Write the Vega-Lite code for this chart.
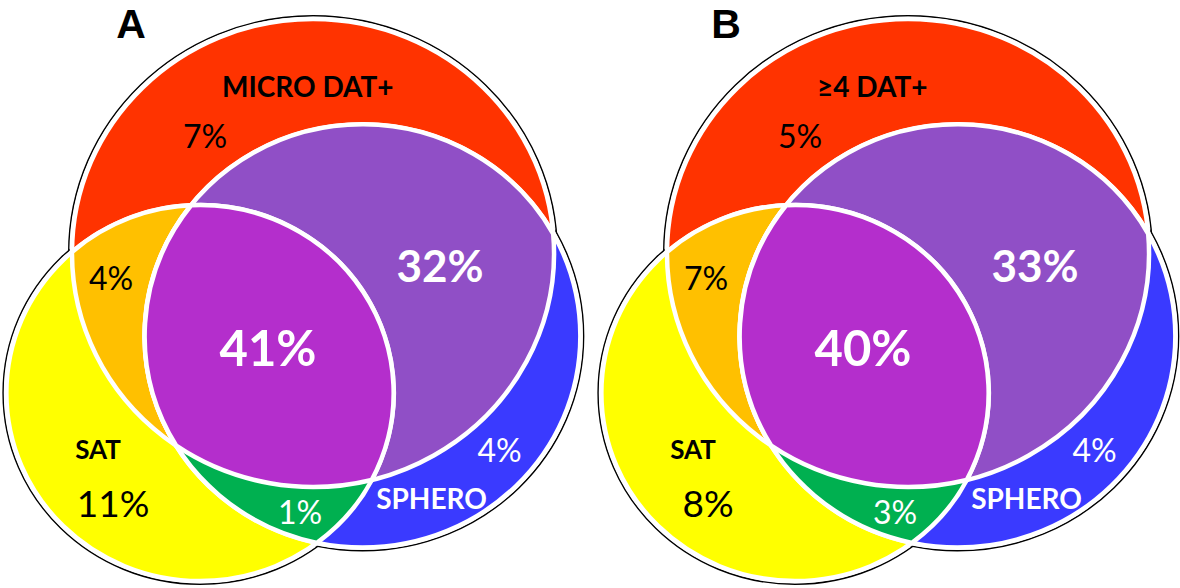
{
  "$schema": "https://vega.github.io/schema/vega-lite/v6.json",
  "width": 1180,
  "height": 588,
  "padding": 0,
  "autosize": "none",
  "background": "white",
  "config": {"view": {"stroke": null}},
  "datasets": {
    "panels": [{"panel": "A"}, {"panel": "B"}],
    "sets": [
      {"panel": "A", "set": "DAT", "label": "MICRO DAT+"},
      {"panel": "A", "set": "SAT", "label": "SAT"},
      {"panel": "A", "set": "SPHERO", "label": "SPHERO"},
      {"panel": "B", "set": "DAT", "label": "≥4 DAT+"},
      {"panel": "B", "set": "SAT", "label": "SAT"},
      {"panel": "B", "set": "SPHERO", "label": "SPHERO"}
    ],
    "regions": [
      {"panel": "A", "region": "DAT", "pct": 0.07},
      {"panel": "A", "region": "SAT", "pct": 0.11},
      {"panel": "A", "region": "SPHERO", "pct": 0.04},
      {"panel": "A", "region": "DAT+SAT", "pct": 0.04},
      {"panel": "A", "region": "DAT+SPHERO", "pct": 0.32},
      {"panel": "A", "region": "SAT+SPHERO", "pct": 0.01},
      {"panel": "A", "region": "DAT+SAT+SPHERO", "pct": 0.41},
      {"panel": "B", "region": "DAT", "pct": 0.05},
      {"panel": "B", "region": "SAT", "pct": 0.08},
      {"panel": "B", "region": "SPHERO", "pct": 0.04},
      {"panel": "B", "region": "DAT+SAT", "pct": 0.07},
      {"panel": "B", "region": "DAT+SPHERO", "pct": 0.33},
      {"panel": "B", "region": "SAT+SPHERO", "pct": 0.03},
      {"panel": "B", "region": "DAT+SAT+SPHERO", "pct": 0.40}
    ]
  },
  "encoding": {
    "x": {"field": "panel", "type": "nominal", "scale": {"type": "point", "domain": ["A", "B"], "range": [300, 895], "padding": 0}, "axis": null},
    "y": {"field": "panel", "type": "nominal", "scale": {"type": "point", "domain": ["A", "B"], "range": [300, 300], "padding": 0}, "axis": null}
  },
  "resolve": {"scale": {"shape": "independent", "fill": "independent"}},
  "layer": [
    {
      "data": {"name": "sets"},
      "mark": {"type": "point", "filled": true, "fill": "white", "stroke": "black", "strokeWidth": 1.4, "size": 4, "opacity": 1},
      "encoding": {
        "shape": {"field": "set", "type": "nominal", "legend": null, "scale": {"domain": ["DAT", "SAT", "SPHERO"], "range": [
          "M -231.32 -47 A 244.32 237.3 0 1 0 257.32 -47 A 244.32 237.3 0 1 0 -231.32 -47 Z",
          "M -296.94 93 A 196.94 191.3 0 1 0 96.94 93 A 196.94 191.3 0 1 0 -296.94 93 Z",
          "M -158.65 36 A 221.15 214.8 0 1 0 283.65 36 A 221.15 214.8 0 1 0 -158.65 36 Z"
        ]}}
      }
    },
    {
      "data": {"name": "sets"},
      "mark": {"type": "point", "filled": true, "stroke": "white", "strokeWidth": 4.5, "size": 4, "opacity": 1},
      "encoding": {
        "shape": {"field": "set", "type": "nominal", "legend": null, "scale": {"domain": ["DAT", "SAT", "SPHERO"], "range": [
          "M -228.02 -47 A 241.02 234 0 1 0 254.02 -47 A 241.02 234 0 1 0 -228.02 -47 Z",
          "M -293.64 93 A 193.64 188 0 1 0 93.64 93 A 193.64 188 0 1 0 -293.64 93 Z",
          "M -155.35 36 A 217.85 211.5 0 1 0 280.35 36 A 217.85 211.5 0 1 0 -155.35 36 Z"
        ]}},
        "fill": {"field": "set", "type": "nominal", "legend": null, "scale": {"domain": ["DAT", "SAT", "SPHERO"], "range": ["#FF3300", "#FFFF00", "#3A3AFF"]}}
      }
    },
    {
      "data": {"name": "regions"},
      "transform": [{"filter": {"field": "region", "oneOf": ["DAT+SAT", "DAT+SPHERO", "SAT+SPHERO"]}}],
      "mark": {"type": "point", "filled": true, "stroke": "white", "strokeWidth": 4.5, "size": 4, "opacity": 1},
      "encoding": {
        "shape": {"field": "region", "type": "nominal", "legend": null, "scale": {"domain": ["DAT+SAT", "DAT+SPHERO", "SAT+SPHERO"], "range": [
          "M -228.02 -48.05 A 193.64 188 0 0 1 71.69 179.96 A 241.02 234 0 0 1 -228.02 -48.05 Z",
          "M -123.77 145.68 A 217.85 211.5 0 1 1 253.2 -66.23 A 241.02 234 0 0 1 -123.77 145.68 Z",
          "M -108.68 -94.81 A 193.64 188 0 0 1 16.97 242.83 A 217.85 211.5 0 0 1 -108.68 -94.81 Z"
        ]}},
        "fill": {"field": "region", "type": "nominal", "legend": null, "scale": {"domain": ["DAT+SAT", "DAT+SPHERO", "SAT+SPHERO"], "range": ["#FFC000", "#904FC6", "#00B050"]}}
      }
    },
    {
      "data": {"name": "regions"},
      "transform": [{"filter": {"field": "region", "equal": "DAT+SAT+SPHERO"}}],
      "mark": {"type": "point", "filled": true, "fill": "#B42ECC", "stroke": "white", "strokeWidth": 4.5, "size": 4, "opacity": 1,
        "shape": "M -108.68 -94.81 A 193.64 188 0 0 1 71.69 179.96 A 241.02 234 0 0 1 -123.77 145.68 A 217.85 211.5 0 0 1 -108.68 -94.81 Z"}
    },
    {
      "data": {"name": "sets"},
      "transform": [{"filter": {"field": "set", "equal": "DAT"}}],
      "mark": {"type": "text", "font": "Lato", "fontWeight": "bold", "fontSize": 28, "color": "black", "align": "left", "baseline": "alphabetic", "dx": -78, "dy": -203},
      "encoding": {"text": {"field": "label"}}
    },
    {
      "data": {"name": "sets"},
      "transform": [{"filter": {"field": "set", "equal": "SAT"}}],
      "mark": {"type": "text", "font": "Lato", "fontWeight": "bold", "fontSize": 26, "color": "black", "align": "center", "baseline": "alphabetic", "dx": -202, "dy": 159},
      "encoding": {"text": {"field": "label"}}
    },
    {
      "data": {"name": "sets"},
      "transform": [{"filter": {"field": "set", "equal": "SPHERO"}}],
      "mark": {"type": "text", "font": "Lato", "fontWeight": "bold", "fontSize": 28, "color": "white", "align": "center", "baseline": "alphabetic", "dx": 131.5, "dy": 209},
      "encoding": {"text": {"field": "label"}}
    },
    {
      "data": {"name": "regions"},
      "transform": [{"filter": {"field": "region", "equal": "DAT"}}],
      "mark": {"type": "text", "font": "Lato", "fontSize": 32, "color": "black", "align": "center", "baseline": "alphabetic", "dx": -95, "dy": -152},
      "encoding": {"text": {"field": "pct", "type": "quantitative", "format": ".0%"}}
    },
    {
      "data": {"name": "regions"},
      "transform": [{"filter": {"field": "region", "equal": "SAT"}}],
      "mark": {"type": "text", "font": "Lato", "fontSize": 37, "color": "black", "align": "center", "baseline": "alphabetic", "dx": -187, "dy": 217},
      "encoding": {"text": {"field": "pct", "type": "quantitative", "format": ".0%"}}
    },
    {
      "data": {"name": "regions"},
      "transform": [{"filter": {"field": "region", "equal": "SPHERO"}}],
      "mark": {"type": "text", "font": "Lato", "fontSize": 32, "color": "white", "align": "center", "baseline": "alphabetic", "dx": 199.5, "dy": 162},
      "encoding": {"text": {"field": "pct", "type": "quantitative", "format": ".0%"}}
    },
    {
      "data": {"name": "regions"},
      "transform": [{"filter": {"field": "region", "equal": "DAT+SAT"}}],
      "mark": {"type": "text", "font": "Lato", "fontSize": 32, "color": "black", "align": "center", "baseline": "alphabetic", "dx": -189, "dy": -10},
      "encoding": {"text": {"field": "pct", "type": "quantitative", "format": ".0%"}}
    },
    {
      "data": {"name": "regions"},
      "transform": [{"filter": {"field": "region", "equal": "DAT+SPHERO"}}],
      "mark": {"type": "text", "font": "Lato", "fontWeight": "bold", "fontSize": 44, "color": "white", "align": "center", "baseline": "alphabetic", "dx": 140, "dy": -18},
      "encoding": {"text": {"field": "pct", "type": "quantitative", "format": ".0%"}}
    },
    {
      "data": {"name": "regions"},
      "transform": [{"filter": {"field": "region", "equal": "SAT+SPHERO"}}],
      "mark": {"type": "text", "font": "Lato", "fontSize": 32, "color": "white", "align": "center", "baseline": "alphabetic", "dx": 0, "dy": 224},
      "encoding": {"text": {"field": "pct", "type": "quantitative", "format": ".0%"}}
    },
    {
      "data": {"name": "regions"},
      "transform": [{"filter": {"field": "region", "equal": "DAT+SAT+SPHERO"}}],
      "mark": {"type": "text", "font": "Lato", "fontWeight": "bold", "fontSize": 49, "color": "white", "align": "center", "baseline": "alphabetic", "dx": -32, "dy": 65.5},
      "encoding": {"text": {"field": "pct", "type": "quantitative", "format": ".0%"}}
    },
    {
      "data": {"name": "panels"},
      "mark": {"type": "text", "font": "Liberation Sans", "fontWeight": "bold", "fontSize": 41, "color": "black", "align": "center", "baseline": "alphabetic", "dx": -169, "dy": -262},
      "encoding": {"text": {"field": "panel"}}
    }
  ]
}
